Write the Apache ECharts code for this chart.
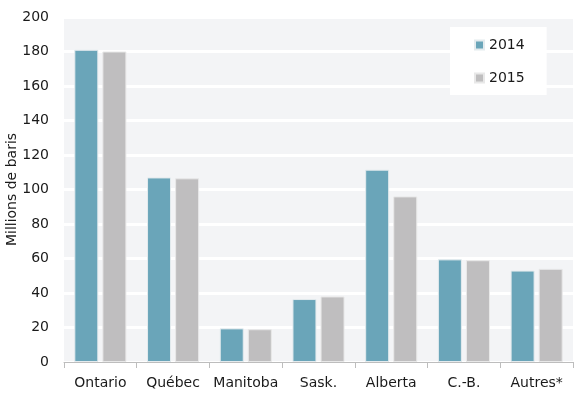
<!DOCTYPE html>
<html>
<head>
<meta charset="utf-8">
<script src="https://cdn.jsdelivr.net/npm/echarts@6/dist/echarts.min.js"></script>
<style>
  html, body { margin: 0; padding: 0; background: #fff; }
  #chart { width: 580px; height: 398px; }
</style>
</head>
<body>
<div id="chart"></div>
<script>
const provinces = ["Ontario", "Québec", "Manitoba", "Sask.", "Alberta", "C.-B.", "Autres*"];
const values2014 = [181, 107, 19.5, 36.5, 111.5, 59.5, 53];
const values2015 = [180, 106.5, 19, 38, 96, 59, 54];

const chart = echarts.init(document.getElementById("chart"));

chart.setOption({
  backgroundColor: "#fff",
  textStyle: { fontFamily: "DejaVu Sans" },
  grid: {
    left: 64,
    right: 7,
    top: 17,
    bottom: 36,
    outerBoundsMode: "none",
    containLabel: false,
    show: true,
    backgroundColor: "#f3f4f6",
    borderWidth: 0,
  },
  legend: {
    orient: "vertical",
    left: 450,
    top: 27,
    backgroundColor: "#fff",
    padding: [11, 22, 10, 24],
    itemGap: 19,
    itemWidth: 9,
    itemHeight: 9,
    icon: "rect",
    textStyle: { fontSize: 14, color: "#1a1a1a" },
    data: ["2014", "2015"],
  },
  xAxis: {
    type: "category",
    data: provinces,
    axisLine: { lineStyle: { color: "#bdbdbd" } },
    axisTick: { show: true, length: 6, lineStyle: { color: "#bdbdbd" } },
    axisLabel: { color: "#1a1a1a", fontSize: 14, margin: 14, interval: 0, hideOverlap: false },
  },
  yAxis: {
    type: "value",
    min: 0,
    max: 200,
    interval: 20,
    name: "Millions de baris",
    nameLocation: "middle",
    nameGap: 45,
    nameMoveOverlap: false,
    nameTextStyle: { color: "#1a1a1a", fontSize: 14 },
    axisLine: { show: false },
    axisTick: { show: false },
    axisLabel: { color: "#1a1a1a", fontSize: 14, margin: 15 },
    splitLine: { lineStyle: { color: "#fff", width: 3 } },
  },
  series: [
    {
      name: "2014",
      type: "bar",
      data: values2014,
      barWidth: 24,
      barGap: "17%",
      itemStyle: { color: "#6aa5b9", borderColor: "#e4ebee", borderWidth: 1 },
    },
    {
      name: "2015",
      type: "bar",
      data: values2015,
      barWidth: 24,
      itemStyle: { color: "#bfbebf", borderColor: "#e8e8e8", borderWidth: 1 },
    },
  ],
  animation: false,
});
</script>
</body>
</html>
